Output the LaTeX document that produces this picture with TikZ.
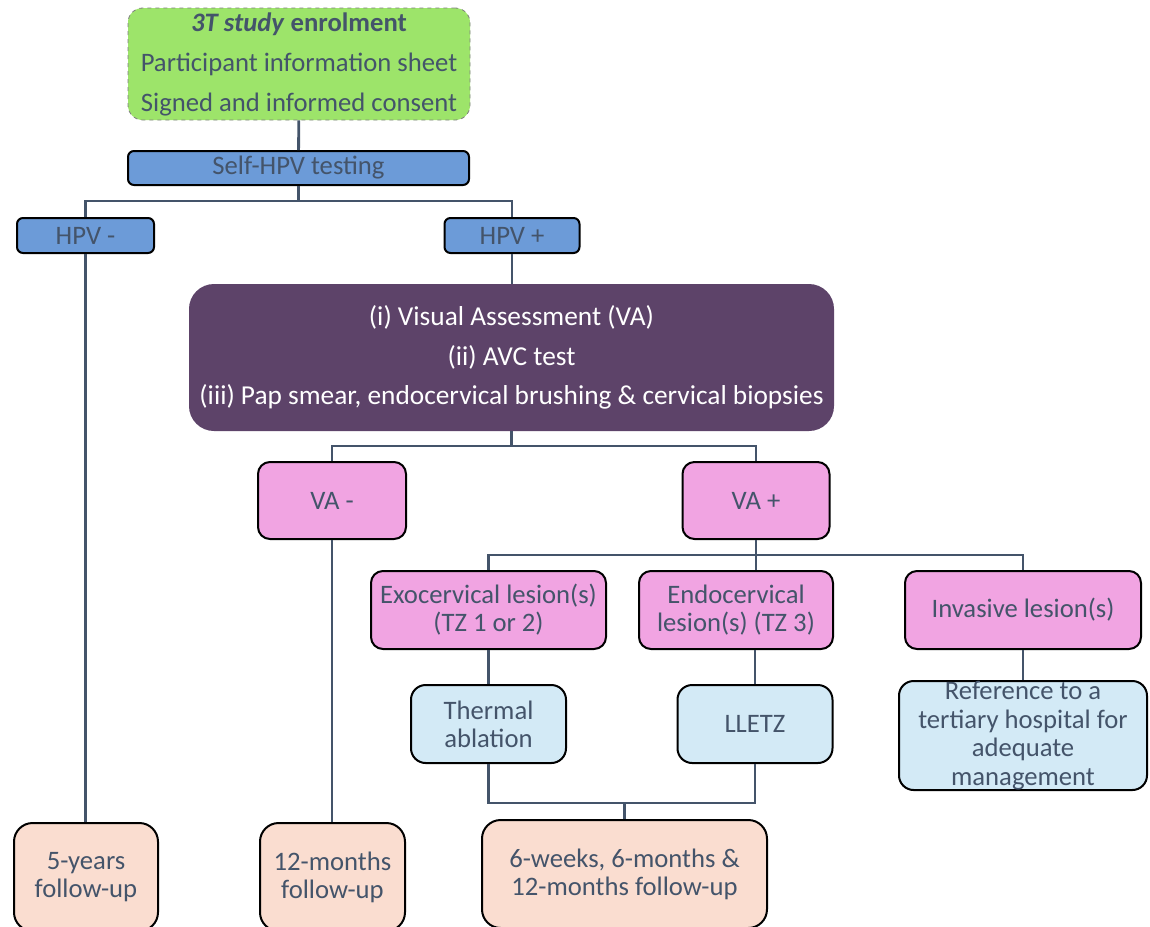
\documentclass[tikz,border=0pt]{standalone}
\usepackage{fontspec}
\setmainfont{Carlito}
\definecolor{txt}{HTML}{44546A}
\definecolor{gfill}{HTML}{9DE46A}
\definecolor{bfill}{HTML}{6C9BD8}
\definecolor{pfill}{HTML}{5D4369}
\definecolor{kfill}{HTML}{F1A4E2}
\definecolor{lfill}{HTML}{D3EAF6}
\definecolor{ofill}{HTML}{FADDD0}
\definecolor{conn}{HTML}{44546A}
\tikzset{
  base/.style={rectangle, draw=black, line width=1.5pt, text=txt, align=center, inner sep=0pt,
    font=\fontsize{20}{21}\selectfont},
  greenbox/.style={base, fill=gfill, draw=gray, dashed, line width=0.6pt, rounded corners=11pt,
    font=\fontsize{20}{30}\selectfont},
  bluebox/.style={base, fill=bfill, rounded corners=4.5pt},
  purplebox/.style={base, fill=pfill, draw=pfill, text=white, rounded corners=18pt,
    font=\fontsize{20.5}{29.7}\selectfont},
  pinkbox/.style={base, fill=kfill, rounded corners=9pt},
  lbluebox/.style={base, fill=lfill, rounded corners=11pt},
  peachbox/.style={base, fill=ofill, rounded corners=14pt},
  link/.style={draw=conn, line width=2.1pt},
}
\begin{document}
\begin{tikzpicture}[x=0.75pt,y=-0.75pt]
\useasboundingbox (0,0) rectangle (1150,926);
\clip (0,0) rectangle (1150,926);
% nodes
\node[greenbox, minimum width=256.5pt, minimum height=84pt] (enrol) at (299,64)
  {\textbf{\textit{3T study} enrolment}\\Participant information sheet\\Signed and informed consent};
\node[bluebox, minimum width=255.75pt, minimum height=25.5pt] (self) at (298.5,168) {Self-HPV testing};
\node[bluebox, minimum width=102.75pt, minimum height=26.25pt] (hpvm) at (85.5,235.5) {HPV -};
\node[bluebox, minimum width=101.25pt, minimum height=26.25pt] (hpvp) at (512,235.5) {HPV +};
\node[purplebox, minimum width=482.25pt, minimum height=108.75pt] (tests) at (511.5,357.5)
  {(i) Visual Assessment (VA)\\(ii) AVC test\\(iii) Pap smear, endocervical brushing \& cervical biopsies};
\node[pinkbox, minimum width=111pt, minimum height=57.75pt] (vam) at (332,500.5) {VA -};
\node[pinkbox, minimum width=110.25pt, minimum height=57.75pt] (vap) at (756,500.5) {VA +};
\node[pinkbox, minimum width=176.25pt, minimum height=58.5pt] (exo) at (488.5,610) {Exocervical lesion(s)\\(TZ 1 or 2)};
\node[pinkbox, minimum width=145.5pt, minimum height=58.5pt] (endo) at (736,610) {Endocervical\\lesion(s) (TZ 3)};
\node[pinkbox, minimum width=177pt, minimum height=58.5pt] (inv) at (1023,610) {Invasive lesion(s)};
\node[lbluebox, minimum width=116.25pt, minimum height=58.5pt] (therm) at (488.5,724) {Thermal\\ablation};
\node[lbluebox, minimum width=116.25pt, minimum height=58.5pt] (lletz) at (755,724) {LLETZ};
\node[lbluebox, minimum width=186pt, minimum height=81.75pt, inner ysep=-3pt,
  font=\fontsize{20}{21.5}\selectfont] (ref) at (1023,735.5)
  {Reference to a\\tertiary hospital for\\adequate\\management};
\node[peachbox, minimum width=108pt, minimum height=81pt] (five) at (86,877) {5-years\\follow-up};
\node[peachbox, minimum width=108.75pt, minimum height=81pt] (twelve) at (332.5,877) {12-months\\follow-up};
\node[peachbox, minimum width=213.75pt, minimum height=81pt] (six) at (624.5,874)
  {6-weeks, 6-months \&\\12-months follow-up};
% connectors
\coordinate (b1) at (298.5,201);
\coordinate (b2) at (511.5,446);
\coordinate (b3) at (756,555);
\coordinate (b4) at (624.5,803);
\draw[link] (enrol) -- (self);
\draw[link] (self.south) -- (b1);
\draw[link] (hpvm.north) |- (b1) -| (hpvp.north);
\draw[link] (hpvm.south) -- (hpvm.south |- five.north);
\draw[link] (hpvp.south) -- (hpvp.south |- tests.north);
\draw[link] (tests.south) -- (b2);
\draw[link] (vam.north) |- (b2) -| (vap.north);
\draw[link] (vam.south) -- (vam.south |- twelve.north);
\draw[link] (vap.south) -- (b3);
\draw[link] (exo.north) |- (b3) -| (inv.north);
\draw[link] (b3) -- (b3 |- endo.north);
\draw[link] (exo.south) -- (therm.north);
\draw[link] (lletz.north |- endo.south) -- (lletz.north);
\draw[link] (inv.south) -- (ref.north);
\draw[link] (therm.south) |- (b4) -| (lletz.south);
\draw[link] (b4) -- (six.north);
\end{tikzpicture}
\end{document}
